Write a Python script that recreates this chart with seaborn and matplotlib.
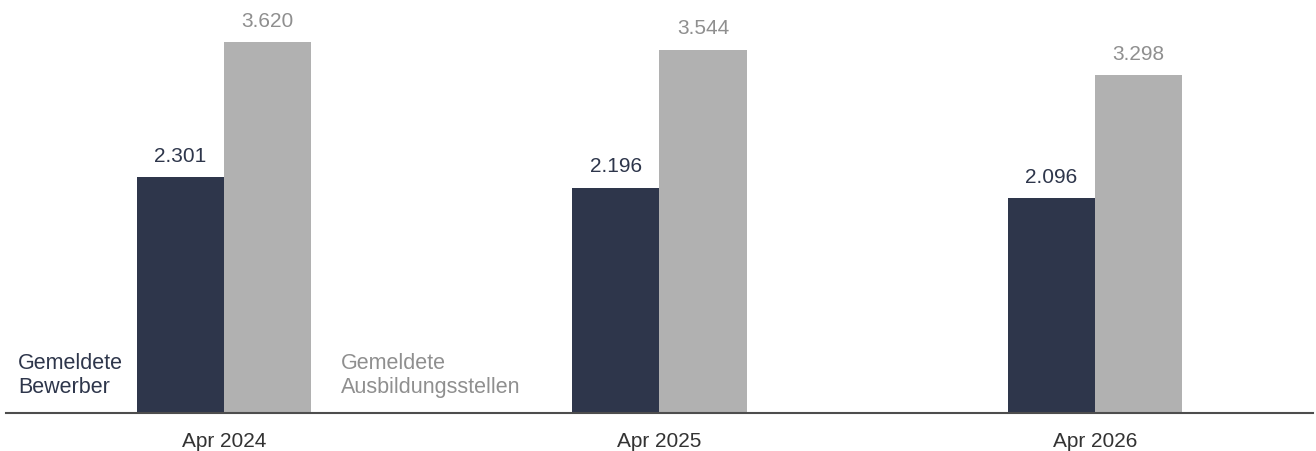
import pandas as pd
import matplotlib.pyplot as plt
import seaborn as sns

# Werte aus der Grafik
months = ["Apr 2024", "Apr 2025", "Apr 2026"]
bewerber = [2301, 2196, 2096]
stellen = [3620, 3544, 3298]
series = ["Gemeldete Bewerber", "Gemeldete Ausbildungsstellen"]

NAVY = "#2e364b"
GREY = "#b1b1b1"
GREY_TXT = "#8f8f8f"

df = pd.DataFrame({
    "month": months * 2,
    "value": bewerber + stellen,
    "series": [series[0]] * len(months) + [series[1]] * len(months),
})

sns.set_style("white")
plt.rcParams["font.family"] = ["Liberation Sans", "DejaVu Sans"]

fig = plt.figure(figsize=(13.16, 4.52), dpi=100)
ax = fig.add_axes([0.0046, 0.084, 0.993, 0.916])

sns.barplot(data=df, x="month", y="value", hue="series", hue_order=series,
            palette=[NAVY, GREY], width=0.4, gap=0, saturation=1,
            linewidth=0, legend=False, ax=ax)

# Wertelabels über den Balken
for cont, col in zip(ax.containers, [NAVY, GREY_TXT]):
    labels = [f"{v:,.0f}".replace(",", ".") for v in cont.datavalues]
    ax.bar_label(cont, labels=labels, padding=9, color=col, fontsize=15)

ax.set_xlim(-0.5, 2.5)
ax.set_ylim(0, 4040)
ax.set_xlabel("")
ax.set_ylabel("")
ax.set_yticks([])
ax.tick_params(axis="x", length=0, labelsize=15, colors="#333333", pad=13)

sns.despine(ax=ax, left=True, top=True, right=True)
ax.spines["bottom"].set_color("#4d4d4d")
ax.spines["bottom"].set_linewidth(1.5)

# Beschriftung statt Legende
ax.text(0.009, 0.093, "Gemeldete\nBewerber", transform=ax.transAxes,
        color=NAVY, fontsize=15.5, ha="left", va="center", linespacing=1.2)
ax.text(0.256, 0.093, "Gemeldete\nAusbildungsstellen", transform=ax.transAxes,
        color=GREY_TXT, fontsize=15.5, ha="left", va="center", linespacing=1.2)

fig.savefig("out.png", dpi=100)
